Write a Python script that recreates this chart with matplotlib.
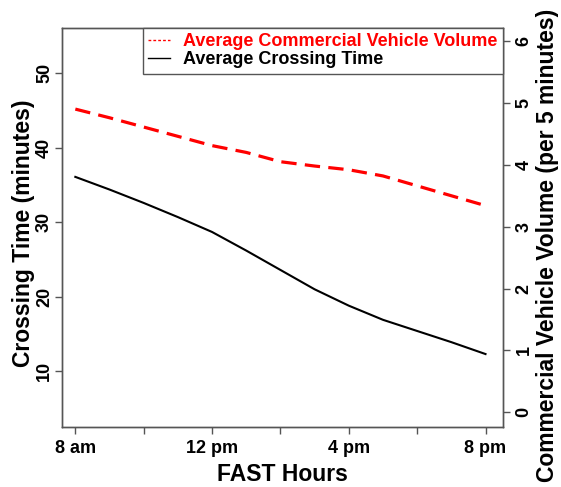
import matplotlib
matplotlib.use("Agg")
import matplotlib.pyplot as plt
from matplotlib.lines import Line2D

plt.rcParams["font.family"] = ["Liberation Sans", "DejaVu Sans"]
plt.rcParams["font.weight"] = "bold"

# ── Data ──
hours = [8, 9, 10, 11, 12, 13, 14, 15, 16, 17, 18, 19, 20]
crossing_time = [36.1, 34.4, 32.6, 30.7, 28.7, 26.2, 23.6, 21.0, 18.8, 16.9, 15.4, 13.9, 12.3]
vehicle_volume = [4.9, 4.76, 4.61, 4.46, 4.31, 4.2, 4.05, 3.98, 3.92, 3.82, 3.66, 3.5, 3.34]

x_ticks = [8, 10, 12, 14, 16, 18, 20]
x_labels = ["8 am", "", "12 pm", "", "4 pm", "", "8 pm"]
left_ticks = [10, 20, 30, 40, 50]
right_ticks = [0, 1, 2, 3, 4, 5, 6]

FRAME = "#555555"

fig = plt.figure(figsize=(5.61, 4.87), dpi=100)
ax = fig.add_axes([0.1105, 0.1232, 0.786, 0.8193])
ax2 = ax.twinx()

ax.plot(hours, crossing_time, color="black", lw=1.5)
ax2.plot(hours, vehicle_volume, color="red", lw=2.3, dashes=(4.8, 2.6))

ax.set_xlim(7.61, 20.51)
ax.set_ylim(2.5, 56.1)
ax2.set_ylim(-0.236, 6.21)

ax.set_xticks(x_ticks)
ax.set_xticklabels(x_labels, fontsize=13, fontweight="bold")
ax.set_yticks(left_ticks)
ax.set_yticklabels([str(t) for t in left_ticks], fontsize=13,
                   fontweight="bold", rotation=90, va="center")
ax2.set_yticks(right_ticks)
ax2.set_yticklabels([str(t) for t in right_ticks], fontsize=13,
                    fontweight="bold", rotation=90, va="center")

for a in (ax, ax2):
    for s in a.spines.values():
        s.set_color(FRAME)
        s.set_linewidth(1.0)
    a.tick_params(color=FRAME, length=5, width=1.0)
ax.tick_params(axis="y", pad=1.5)
ax.tick_params(axis="x", pad=4)
ax2.tick_params(axis="y", pad=4)

ax.set_xlabel("FAST Hours", fontsize=16.5, fontweight="bold", labelpad=5)
ax.set_ylabel("Crossing Time (minutes)", fontsize=16.5, fontweight="bold")
ax2.set_ylabel("Commercial Vehicle Volume (per 5 minutes)", fontsize=16.5,
               fontweight="bold", rotation=90)
ax.yaxis.label.set_va("center")
ax2.yaxis.label.set_va("center")
ax.yaxis.set_label_coords(-0.088, 0.485)
ax2.yaxis.set_label_coords(1.100, 0.455)

handles = [
    Line2D([], [], color="red", lw=1.0, dashes=(2, 1.5)),
    Line2D([], [], color="black", lw=1.0),
]
leg = ax.legend(handles, ["Average Commercial Vehicle Volume", "Average Crossing Time"],
                loc="upper right", bbox_to_anchor=(1.0, 1.0), borderaxespad=0,
                fancybox=False, framealpha=1, edgecolor=FRAME,
                prop={"size": 13, "weight": "bold"},
                handlelength=1.2, handletextpad=0.75, borderpad=0.3,
                labelspacing=0.05)
leg.get_frame().set_linewidth(1.0)
leg.texts[0].set_color("red")
ax.set_zorder(ax2.get_zorder() + 1)
ax.patch.set_visible(False)

fig.savefig("out.png", dpi=100)
